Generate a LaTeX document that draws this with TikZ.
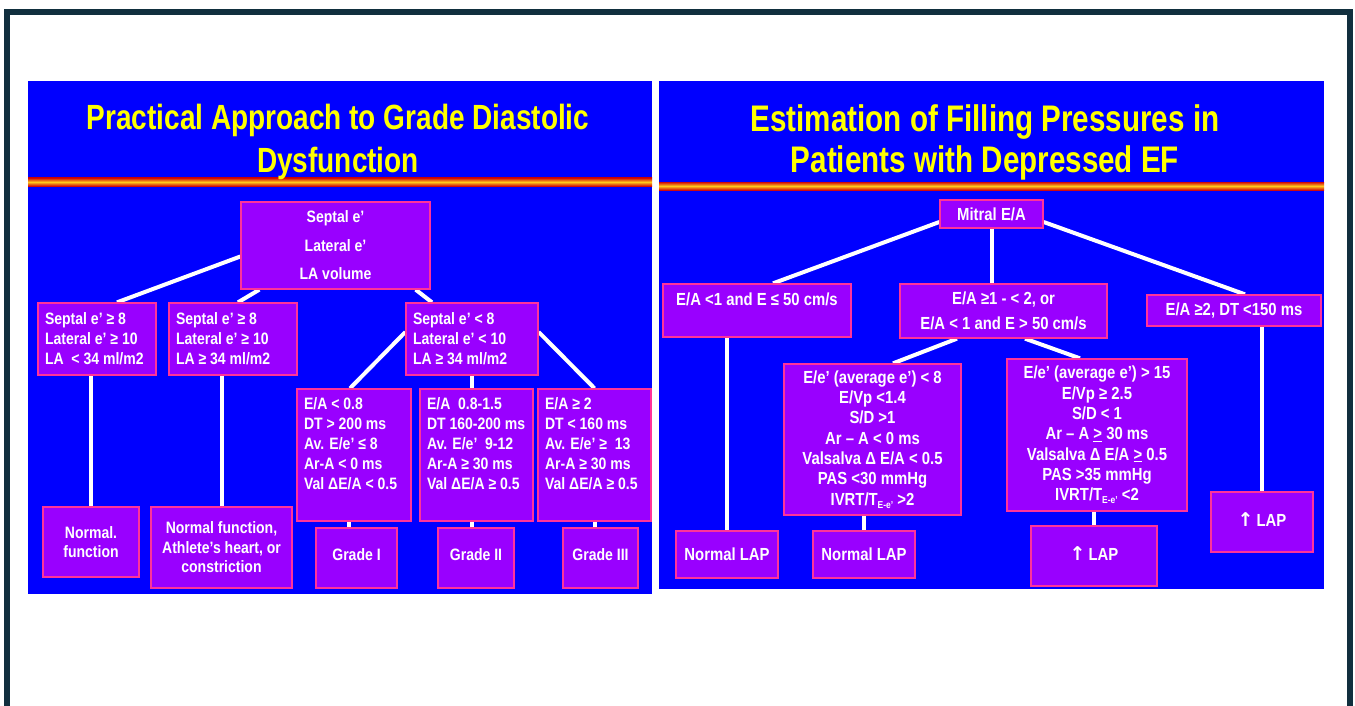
\documentclass[tikz,border=0pt]{standalone}
\usepackage{fontspec}
\newfontfamily\nf[FakeStretch=0.85]{Liberation Sans}
\newfontfamily\tf[FakeStretch=0.8]{Liberation Sans}
\newfontfamily\arrowfont{DejaVu Sans}
\usetikzlibrary{calc}
\definecolor{panelblue}{RGB}{0,0,255}
\definecolor{boxpurple}{RGB}{153,0,255}
\definecolor{boxedge}{RGB}{255,51,153}
\definecolor{framecol}{RGB}{17,47,62}
\definecolor{titleyellow}{RGB}{255,255,0}
\definecolor{barred}{RGB}{210,10,10}
\definecolor{baryellow}{RGB}{255,200,30}
\pgfdeclarelayer{panel}
\pgfdeclarelayer{lines}
\pgfsetlayers{panel,lines,main}
\tikzset{
  box/.style={draw=boxedge, fill=boxpurple, line width=1.3pt, inner sep=0pt,
    text=white, align=center, font=\nf\bfseries\fontsize{16.5}{20}\selectfont},
  rbox/.style={box, font=\nf\bfseries\fontsize{17.5}{20.3}\selectfont},
  conn/.style={draw=white, line width=4pt},
  ttl/.style={text=titleyellow, inner sep=0pt, anchor=base,
    font=\tf\bfseries\fontsize{35}{42}\selectfont},
  rttl/.style={ttl, font=\tf\bfseries\fontsize{37}{42}\selectfont}
}
\newcommand\subEe{\raisebox{-3pt}{\fontsize{10}{10}\selectfont E-e’}}
\newcommand\uparr{{\arrowfont\bfseries\fontsize{19}{20}\selectfont ↑}}
\begin{document}
\begin{tikzpicture}[x=1pt,y=-1pt]
\useasboundingbox (0,0) rectangle (1355,706);
\begin{pgfonlayer}{panel}
\fill[white] (0,0) rectangle (1355,706);
\fill[panelblue] (28,81) rectangle (652,594);
\fill[panelblue] (659,81) rectangle (1324,589);
\shade[top color=barred, bottom color=barred, middle color=baryellow] (28,178) rectangle (652,186);
\shade[top color=barred, bottom color=barred, middle color=baryellow] (659,182) rectangle (1324,190);
\draw[framecol, line width=6pt, line join=miter] (7,706) -- (7,12.5) -- (1349.7,12.5) -- (1349.7,706);
\end{pgfonlayer}

% titles
\node[ttl] (t1a) at (338,130) {Practical Approach to Grade Diastolic};
\node[ttl] (t1b) at (338,172) {Dysfunction};
\node[rttl] (t2a) at (985,132) {Estimation of Filling Pressures in};
\node[rttl] (t2b) at (985,172) {Patients with Depressed EF};

% ---------- left panel ----------
\node[box, minimum width=189pt, minimum height=87pt,
  font=\nf\bfseries\fontsize{16.5}{28.5}\selectfont] (T) at (335.5,245.5)
  {Septal e’\\Lateral e’\\LA volume};
\node[box, minimum width=118pt, minimum height=72pt] (L1) at (97,339)
  {\parbox{104pt}{\raggedright Septal e’ ≥ 8\\Lateral e’ ≥ 10\\LA\ \ < 34 ml/m2}};
\node[box, minimum width=128pt, minimum height=72pt] (L2) at (233,339)
  {\parbox{114pt}{\raggedright Septal e’ ≥ 8\\Lateral e’ ≥ 10\\LA ≥ 34 ml/m2}};
\node[box, minimum width=132pt, minimum height=72pt] (L3) at (472,339)
  {\parbox{118pt}{\raggedright Septal e’ < 8\\Lateral e’ < 10\\LA ≥ 34 ml/m2}};
\node[box, minimum width=114pt, minimum height=132pt] (G1) at (354,455)
  {\parbox[c][114pt][t]{100pt}{\raggedright E/A < 0.8\\DT > 200 ms\\Av. E/e’ ≤ 8\\Ar-A < 0 ms\\Val ΔE/A < 0.5}};
\node[box, minimum width=113pt, minimum height=132pt] (G2) at (476.5,455)
  {\parbox[c][114pt][t]{99pt}{\raggedright E/A\ \ 0.8-1.5\\DT 160-200 ms\\Av. E/e’\ \ 9-12\\Ar-A ≥ 30 ms\\Val ΔE/A ≥ 0.5}};
\node[box, minimum width=113pt, minimum height=132pt] (G3) at (594.5,455)
  {\parbox[c][114pt][t]{99pt}{\raggedright E/A ≥ 2\\DT < 160 ms\\Av. E/e’ ≥\ \ 13\\Ar-A ≥ 30 ms\\Val ΔE/A ≥ 0.5}};
\node[box, minimum width=81pt, minimum height=60pt] (GI) at (356.5,558) {\raisebox{6pt}{Grade I}};
\node[box, minimum width=76pt, minimum height=60pt] (GII) at (476,558) {\raisebox{6pt}{Grade II}};
\node[box, minimum width=75pt, minimum height=60pt] (GIII) at (600.5,558) {\raisebox{6pt}{Grade III}};
\node[box, minimum width=96pt, minimum height=70pt,
  font=\nf\bfseries\fontsize{16.5}{19.5}\selectfont] (N1) at (91,542) {Normal.\\function};
\node[box, minimum width=141pt, minimum height=81pt,
  font=\nf\bfseries\fontsize{16.5}{19.5}\selectfont] (N2) at (221.5,547.5)
  {\raisebox{-6pt}{\parbox{135pt}{\centering Normal function,\\Athlete’s heart, or\\constriction}}};

% ---------- right panel ----------
\node[rbox, minimum width=103pt, minimum height=28pt] (M) at (991.5,214) {Mitral E/A};
\node[rbox, minimum width=188pt, minimum height=53pt] (R1) at (757,310.5)
  {\parbox[c][35pt][t]{180pt}{\centering E/A <1 and E ≤ 50 cm/s}};
\node[rbox, minimum width=207pt, minimum height=54pt,
  font=\nf\bfseries\fontsize{17.5}{25}\selectfont] (R2) at (1003.5,311)
  {E/A ≥1 - < 2, or\\E/A < 1 and E > 50 cm/s};
\node[rbox, minimum width=174pt, minimum height=31pt] (R3) at (1234,310.5) {E/A ≥2, DT <150 ms};
\node[rbox, minimum width=177pt, minimum height=151pt] (R4) at (872.5,439.5)
  {E/e’ (average e’) < 8\\E/Vp <1.4\\S/D >1\\Ar – A < 0 ms\\Valsalva Δ E/A < 0.5\\PAS <30 mmHg\\IVRT/T\subEe\ >2};
\node[rbox, minimum width=180pt, minimum height=152pt] (R5) at (1097,435)
  {E/e’ (average e’) > 15\\E/Vp ≥ 2.5\\S/D < 1\\Ar – A \underline{>} 30 ms\\Valsalva Δ E/A \underline{>} 0.5\\PAS >35 mmHg\\IVRT/T\subEe\ <2};
\node[rbox, minimum width=102pt, minimum height=47pt] (NL1) at (727,554.5) {Normal LAP};
\node[rbox, minimum width=102pt, minimum height=47pt] (NL2) at (864,554.5) {Normal LAP};
\node[rbox, minimum width=126pt, minimum height=60pt] (UL1) at (1094,556) {\raisebox{5pt}{\uparr\,LAP}};
\node[rbox, minimum width=102pt, minimum height=60pt] (UL2) at (1262,522) {\raisebox{5pt}{\uparr\,LAP}};

% ---------- connectors ----------
\begin{pgfonlayer}{lines}
\draw[conn] ([xshift=20pt]L1.north) -- ([yshift=-11pt]T.west);
\draw[conn] ([xshift=5pt]L2.north) -- ([xshift=19pt]T.south west);
\draw[conn] ([xshift=-15pt]T.south east) -- ([xshift=-40pt]L3.north);
\draw[conn] ([yshift=7pt]L3.west) -- ([xshift=-4pt]G1.north);
\draw[conn] (L3.south) -- (L3.south |- G2.north);
\draw[conn] ([yshift=7pt]L3.east) -- (G3.north);
\draw[conn] ([xshift=-5pt]G1.south) -- ([xshift=-5pt]G1.south |- GI.north);
\draw[conn] ([xshift=-4.5pt]G2.south) -- ([xshift=-4.5pt]G2.south |- GII.north);
\draw[conn] (G3.south) -- (G3.south |- GIII.north);
\draw[conn] (L1.south -| N1.north) -- (N1.north);
\draw[conn] (L2.south -| N2.north) -- (N2.north);

\draw[conn] ([yshift=-8pt]M.west) -- ([xshift=16pt]R1.north);
\draw[conn] (M.south) -- (M.south |- R2.north);
\draw[conn] ([yshift=-8pt]M.east) -- ([xshift=11pt]R3.north);
\draw[conn] (R1.south -| NL1.north) -- (NL1.north);
\draw[conn] ([xshift=-46.5pt]R2.south) -- ([xshift=20.5pt]R4.north);
\draw[conn] ([xshift=21.5pt]R2.south) -- ([xshift=-17pt]R5.north);
\draw[conn] (R4.south -| NL2.north) -- (NL2.north);
\draw[conn] (R5.south -| UL1.north) -- (UL1.north);
\draw[conn] (R3.south -| UL2.north) -- (UL2.north);
\end{pgfonlayer}
\end{tikzpicture}
\end{document}
